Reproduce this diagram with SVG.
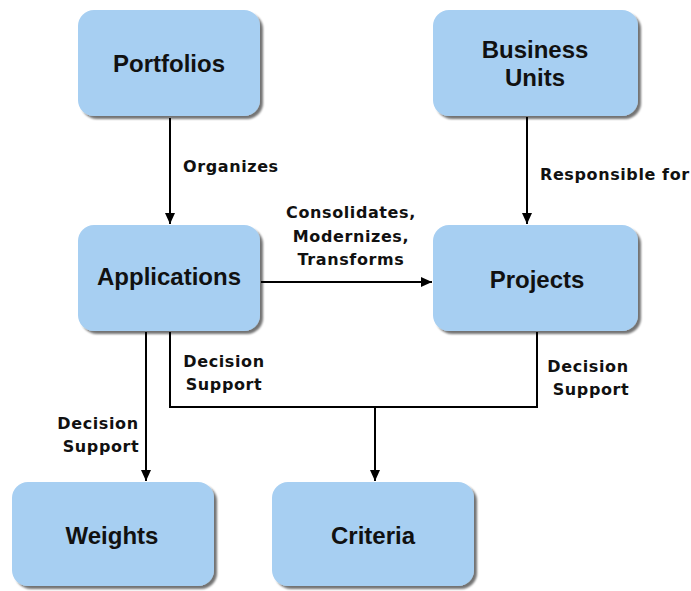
<svg xmlns="http://www.w3.org/2000/svg" width="691" height="591" viewBox="0 0 691 591">
<defs>
<style>
.box{fill:#a7cff2;filter:url(#sh);}
.nt{font-family:"Liberation Sans",Arial,sans-serif;font-weight:bold;font-size:24px;fill:#111;text-anchor:middle;}
.lb{font-family:"DejaVu Sans",Verdana,sans-serif;font-weight:bold;font-size:16px;fill:#111;letter-spacing:0.6px;}
.c{fill:none;stroke:#000;stroke-width:2;}
</style>
<filter id="sh" x="-10%" y="-10%" width="130%" height="130%">
<feGaussianBlur in="SourceAlpha" stdDeviation="1.2" result="b"/>
<feOffset dx="3" dy="3" result="o"/>
<feComponentTransfer in="o" result="s"><feFuncA type="linear" slope="0.55"/></feComponentTransfer>
<feMerge><feMergeNode in="s"/><feMergeNode in="SourceGraphic"/></feMerge>
</filter>
<marker id="ah" markerUnits="userSpaceOnUse" markerWidth="12" markerHeight="12" refX="11" refY="6" orient="auto">
<path d="M0,1 L11,6 L0,11 Z" fill="#000"/>
</marker>
</defs>
<g id="connectors">
<path class="c" d="M170,118 V224" marker-end="url(#ah)"/>
<path class="c" d="M527,117 V224" marker-end="url(#ah)"/>
<path class="c" d="M261,282 H432" marker-end="url(#ah)"/>
<path class="c" d="M146,332 V481" marker-end="url(#ah)"/>
<path class="c" d="M170,332 V407 H537 V332"/>
<path class="c" d="M375,407 V481" marker-end="url(#ah)"/>
<text class="lb" x="183" y="172">Organizes</text>
<text class="lb" x="540" y="180">Responsible for</text>
<text class="lb" x="351" y="218" text-anchor="middle">Consolidates,</text>
<text class="lb" x="351" y="242" text-anchor="middle">Modernizes,</text>
<text class="lb" x="351" y="265" text-anchor="middle">Transforms</text>
<text class="lb" x="224" y="367" text-anchor="middle">Decision</text>
<text class="lb" x="224" y="390" text-anchor="middle">Support</text>
<text class="lb" x="588" y="372" text-anchor="middle">Decision</text>
<text class="lb" x="591" y="395" text-anchor="middle">Support</text>
<text class="lb" x="98" y="429" text-anchor="middle">Decision</text>
<text class="lb" x="101" y="452" text-anchor="middle">Support</text>
</g>
<g id="portfolios">
<rect class="box" x="78" y="10" width="182" height="106" rx="16"/>
<text class="nt" x="169" y="72">Portfolios</text>
</g>
<g id="business-units">
<rect class="box" x="433" y="10" width="205" height="106" rx="16"/>
<text class="nt" x="535" y="58">Business</text>
<text class="nt" x="535" y="86">Units</text>
</g>
<g id="applications">
<rect class="box" x="78" y="225" width="182" height="106" rx="16"/>
<text class="nt" x="169" y="285">Applications</text>
</g>
<g id="projects">
<rect class="box" x="433" y="225" width="205" height="106" rx="16"/>
<text class="nt" x="537" y="288">Projects</text>
</g>
<g id="weights">
<rect class="box" x="12" y="482" width="202" height="104" rx="16"/>
<text class="nt" x="112" y="544">Weights</text>
</g>
<g id="criteria">
<rect class="box" x="272" y="482" width="202" height="104" rx="16"/>
<text class="nt" x="373" y="544">Criteria</text>
</g>
</svg>
